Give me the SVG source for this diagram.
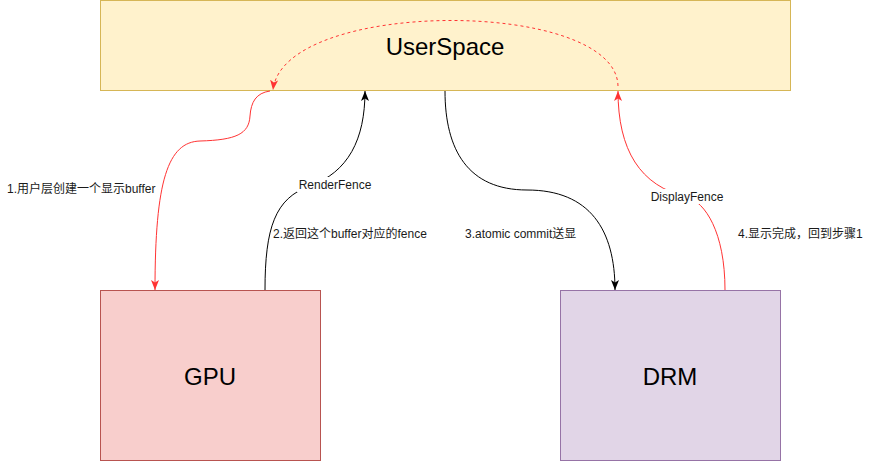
<svg xmlns="http://www.w3.org/2000/svg" width="882" height="461" viewBox="0 0 882 461">
<style>
.lbl{font-family:"Liberation Sans","Noto Sans CJK SC",sans-serif;font-size:12px;fill:#1a1a1a}
.big{font-family:"Liberation Sans","Noto Sans CJK SC",sans-serif;font-size:24px;fill:#000;text-anchor:middle;dominant-baseline:central}
.e{fill:none;stroke-width:1}
.red{stroke:#FF3333}
.blk{stroke:#000}
</style>
<defs>
<marker id="ar" viewBox="0 0 10 10" refX="10" refY="5" markerWidth="10" markerHeight="10" markerUnits="userSpaceOnUse" orient="auto">
<path d="M0,1 L10,5 L0,9 L2.5,5 z" fill="#FF3333"/>
</marker>
<marker id="ab" viewBox="0 0 10 10" refX="10" refY="5" markerWidth="10" markerHeight="10" markerUnits="userSpaceOnUse" orient="auto">
<path d="M0,1 L10,5 L0,9 L2.5,5 z" fill="#000"/>
</marker>
</defs>
<g id="userspace">
<rect x="100.5" y="0.5" width="690" height="90" fill="#fff2cc" stroke="#d6b656"/>
<text class="big" x="445" y="46">UserSpace</text>
</g>
<g id="gpu">
<rect x="100.5" y="290.5" width="220" height="170" fill="#f8cecc" stroke="#b85450"/>
<text class="big" x="210" y="376">GPU</text>
</g>
<g id="drm">
<rect x="560.5" y="290.5" width="220" height="170" fill="#e1d5e7" stroke="#9673a6"/>
<text class="big" x="670" y="376">DRM</text>
</g>
<g id="connectors">
<path class="e red" d="M270,91 C256,93 251,102 250,116 C249,134 236,140 200,141 C168,142 155,180 155,290" marker-end="url(#ar)"/>
<path class="e blk" d="M265,290 C265,228 275,198 310,186 C348,172 365,140 365,91" marker-end="url(#ab)"/>
<path class="e blk" d="M445,91 C445,150 468,190 527,190 C590,190 615,230 615,290" marker-end="url(#ab)"/>
<path class="e red" d="M725,290 C725,232 705,202 687,197 C640,186 618,150 618,91" marker-end="url(#ar)"/>
<path class="e red" d="M618,86 C616,-2 283,-2 273,90" stroke-dasharray="3,3" marker-end="url(#ar)"/>
<rect x="297" y="177" width="76" height="15" fill="#fff"/>
<text class="lbl" x="335" y="189" text-anchor="middle">RenderFence</text>
<rect x="649" y="189" width="76" height="15" fill="#fff"/>
<text class="lbl" x="687" y="201" text-anchor="middle">DisplayFence</text>
<text class="lbl" x="7" y="193">1.用户层创建一个显示buffer</text>
<text class="lbl" x="273" y="238">2.返回这个buffer对应的fence</text>
<text class="lbl" x="465" y="238">3.atomic commit送显</text>
<text class="lbl" x="738" y="238">4.显示完成，回到步骤1</text>
</g>
</svg>
